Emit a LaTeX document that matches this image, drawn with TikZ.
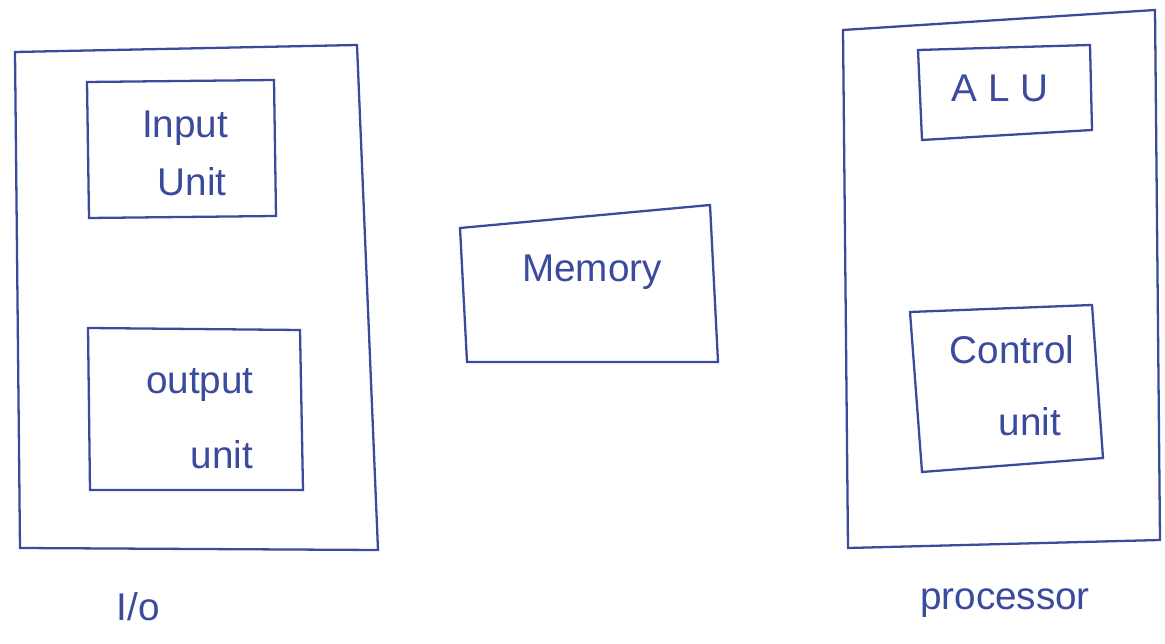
\documentclass[tikz,border=0pt]{standalone}
\usepackage{fontspec}
\setmainfont{Liberation Sans}
\definecolor{pen}{HTML}{3A4A9C}
\begin{document}
\begin{tikzpicture}[x=0.02cm,y=-0.02cm,
  box/.style={draw=pen,line width=1.3pt},
  lbl/.style={text=pen,font=\fontsize{22}{26}\selectfont,inner sep=0pt}]
\useasboundingbox[fill=white] (0,0) rectangle (1165,644);
% I/O group
\draw[box] (15,52) -- (357,45) -- (378,550) -- (20,548) -- cycle;
\draw[box] (87,82) -- (274,80) -- (276,216) -- (89,218) -- cycle;
\draw[box] (88,328) -- (300,330) -- (303,490) -- (90,490) -- cycle;
% Memory
\draw[box] (460,228) -- (710,205) -- (718,362) -- (467,362) -- cycle;
% Processor group
\draw[box] (843,30) -- (1155,10) -- (1160,540) -- (848,548) -- cycle;
\draw[box] (918,50) -- (1090,45) -- (1092,130) -- (922,140) -- cycle;
\draw[box] (910,312) -- (1092,305) -- (1103,458) -- (922,472) -- cycle;
% labels
\node[lbl] (in1) at (185,128) {Input};
\node[lbl] (in2) at (192,182) {Unit};
\node[lbl] (out1) at (200,385) {output};
\node[lbl] (out2) at (222,455) {unit};
\node[lbl] (mem) at (592,272) {Memory};
\node[lbl] (alu) at (1000,88) {A L U};
\node[lbl] (cu1) at (1012,350) {Control};
\node[lbl] (cu2) at (1030,422) {unit};
\node[lbl] (io) at (138,607) {I/o};
\node[lbl] (proc) at (1005,603) {processor};
\end{tikzpicture}
\end{document}
